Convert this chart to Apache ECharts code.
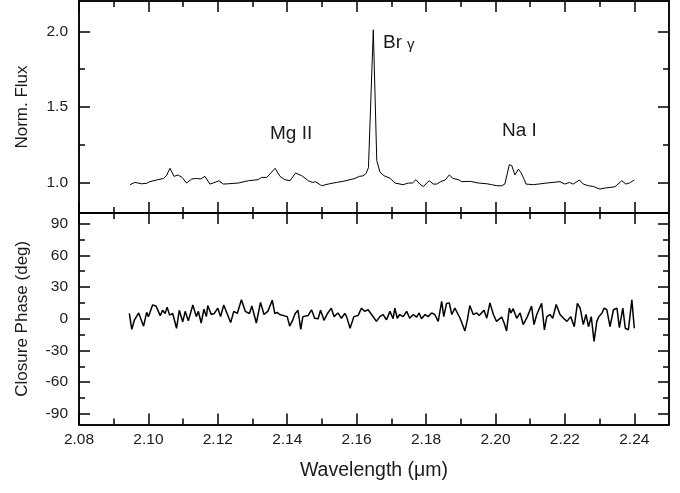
<!DOCTYPE html>
<html><head><meta charset="utf-8">
<script src="https://cdn.jsdelivr.net/npm/echarts@6/dist/echarts.min.js"></script>
<style>html,body{margin:0;padding:0;background:#fff}#c{width:680px;height:493px}</style>
</head><body><div id="c"></div>
<script>
// ---- Data ----
const fluxWavelength = [
  2.0947, 2.0961, 2.0980, 2.0995, 2.1004, 2.1024, 2.1043, 2.1052, 2.1062, 2.1074,
  2.1086, 2.1097, 2.1110, 2.1125, 2.1139, 2.1151, 2.1163, 2.1177, 2.1187, 2.1203,
  2.1216, 2.1230, 2.1259, 2.1288, 2.1316, 2.1326, 2.1341, 2.1365, 2.1379, 2.1393,
  2.1408, 2.1424, 2.1442, 2.1461, 2.1472, 2.1482, 2.1499, 2.1518, 2.1542, 2.1561,
  2.1581, 2.1595, 2.1608, 2.1618, 2.1627, 2.1634, 2.1648, 2.1658, 2.1667, 2.1679,
  2.1696, 2.1710, 2.1734, 2.1749, 2.1761, 2.1771, 2.1782, 2.1792, 2.1809, 2.1821,
  2.1831, 2.1842, 2.1855, 2.1867, 2.1878, 2.1893, 2.1903, 2.1927, 2.1951, 2.1975,
  2.1989, 2.2004, 2.2018, 2.2027, 2.2040, 2.2047, 2.2056, 2.2066, 2.2074, 2.2083,
  2.2088, 2.2109, 2.2148, 2.2186, 2.2200, 2.2213, 2.2224, 2.2242, 2.2253, 2.2268,
  2.2282, 2.2301, 2.2316, 2.2330, 2.2344, 2.2364, 2.2376, 2.2386, 2.2400
];
const fluxValues = [
  0.987, 1.002, 0.993, 0.996, 1.007, 1.018, 1.028, 1.046, 1.095, 1.042,
  1.051, 1.035, 0.998, 1.025, 1.028, 1.025, 1.042, 0.991, 0.998, 1.013,
  0.991, 0.993, 0.998, 1.013, 1.020, 1.035, 1.035, 1.095, 1.042, 1.020,
  1.013, 1.064, 1.046, 1.013, 1.002, 1.006, 0.980, 0.991, 1.002, 1.009,
  1.020, 1.028, 1.042, 1.045, 1.060, 1.100, 2.010, 1.146, 1.070, 1.046,
  1.030, 0.998, 0.987, 0.998, 0.998, 1.020, 0.991, 0.975, 1.013, 0.991,
  0.991, 1.007, 1.018, 1.051, 1.028, 1.020, 1.007, 1.009, 0.998, 0.993,
  0.987, 0.980, 0.980, 0.991, 1.119, 1.113, 1.051, 1.090, 1.065, 1.020,
  0.991, 0.987, 0.998, 1.007, 0.991, 1.002, 0.991, 1.018, 0.991, 0.980,
  0.975, 0.958, 0.965, 0.969, 0.973, 1.013, 0.991, 0.998, 1.018
];
const phaseWavelength = [
  2.0945, 2.0952, 2.0960, 2.0972, 2.0986, 2.0995, 2.1000, 2.1012, 2.1022, 2.1034,
  2.1041, 2.1048, 2.1054, 2.1061, 2.1070, 2.1081, 2.1089, 2.1099, 2.1106, 2.1115,
  2.1128, 2.1138, 2.1144, 2.1152, 2.1160, 2.1167, 2.1171, 2.1181, 2.1190, 2.1200,
  2.1208, 2.1217, 2.1226, 2.1237, 2.1246, 2.1256, 2.1268, 2.1279, 2.1291, 2.1298,
  2.1311, 2.1323, 2.1333, 2.1344, 2.1357, 2.1364, 2.1371, 2.1378, 2.1400, 2.1407,
  2.1416, 2.1423, 2.1431, 2.1439, 2.1445, 2.1460, 2.1470, 2.1479, 2.1489, 2.1496,
  2.1506, 2.1516, 2.1527, 2.1535, 2.1546, 2.1556, 2.1566, 2.1571, 2.1581, 2.1592,
  2.1604, 2.1614, 2.1623, 2.1633, 2.1643, 2.1657, 2.1667, 2.1676, 2.1686, 2.1696,
  2.1705, 2.1710, 2.1717, 2.1724, 2.1734, 2.1744, 2.1753, 2.1763, 2.1773, 2.1780,
  2.1787, 2.1797, 2.1806, 2.1816, 2.1825, 2.1835, 2.1845, 2.1851, 2.1859, 2.1867,
  2.1874, 2.1883, 2.1898, 2.1912, 2.1919, 2.1926, 2.1936, 2.1946, 2.1953, 2.1967,
  2.1975, 2.1984, 2.1994, 2.2003, 2.2018, 2.2025, 2.2032, 2.2040, 2.2045, 2.2051,
  2.2061, 2.2071, 2.2080, 2.2092, 2.2104, 2.2111, 2.2119, 2.2133, 2.2141, 2.2148,
  2.2157, 2.2165, 2.2175, 2.2186, 2.2196, 2.2206, 2.2217, 2.2227, 2.2236, 2.2244,
  2.2253, 2.2261, 2.2268, 2.2276, 2.2284, 2.2292, 2.2298, 2.2307, 2.2313, 2.2321,
  2.2330, 2.2340, 2.2350, 2.2357, 2.2367, 2.2374, 2.2383, 2.2393, 2.2400
];
const phaseValues = [
  5, -10, -1, 5.5, -7, 6, 2, 13, 12, 3,
  8, 5, 11, 3.5, 5, -9, 8, -3, 7, -2,
  13, 2, 7, -4, 9, 2, 12.5, 4, 5, 10,
  2, 13, 5.5, -3.5, 7, 5, 18, 7, 5, 12,
  -4, 15.5, 4, 7, 17.5, 5, 6, 4, 2, -7,
  -1, 5, 8, -10, 2, 3, 8.5, 0.5, 0, 8,
  -1.5, 5, 10, 2, 5.5, 0.5, 5, 2, -9, 2,
  3, 10, 7, 8.5, 4, -2.5, 2, 4, -1, 7,
  0, 10, 0.5, 4, 2, 7, 0.5, 4, 1.5, 5.5,
  0, 4, 2, 5.5, 4, -2.5, 16.5, 2, 14.5, 15,
  4, 10, 0.5, -11.5, -1, 12.5, 4, 5.5, 3, 8,
  0.5, 15, 4, -2.5, 1.5, -4, -11.5, 10, 5.5, 9.5,
  0.5, 5.5, -5.5, 2, 12, -5.5, 4, 14.5, -10.5, 2,
  4, 0.5, 13.5, 4, 0.5, -2.5, 2, -7.5, 14.5, 10,
  -5.5, 4, -7.5, 2, -21.5, -2.5, 2, 5.5, 10, 8.5,
  -7.5, 8.5, 10, -8.5, 10, -9, -10.5, 18, -9
];
const xMajorTicks = [2.08, 2.10, 2.12, 2.14, 2.16, 2.18, 2.20, 2.22, 2.24];
const xMinorTicks = [2.09, 2.11, 2.13, 2.15, 2.17, 2.19, 2.21, 2.23];
const fluxMajorTicks = [1.0, 1.5, 2.0];
const fluxMinorTicks = [1.25, 1.75];
const phaseMajorTicks = [-90, -60, -30, 0, 30, 60, 90];
const phaseMinorTicks = [-75, -45, -15, 15, 45, 75];

// ---- Styling / layout ----
const FONT = "'Liberation Sans', Arial, Helvetica, sans-serif";
const TXT = '#1a1a1a';
const LINE = '#000';
const X_MIN = 2.08, X_MAX = 2.25;
const F_MIN = 0.8, F_MAX = 2.2;
const P_MIN = -100, P_MAX = 100;
const MAJ = 11, MIN_LEN = 6;

function tickAxis(grid, position, ticks, len, min, max, extra) {
  const a = {
    type: 'value', gridIndex: grid, position: position, min: min, max: max,
    axisLine: { show: true, onZero: false, lineStyle: { color: LINE, width: 1.5 } },
    axisTick: { show: true, inside: true, length: len, customValues: ticks,
                lineStyle: { color: LINE, width: 1.5 } },
    axisLabel: { show: false },
    splitLine: { show: false },
    minorTick: { show: false },
    minorSplitLine: { show: false }
  };
  return Object.assign(a, extra || {});
}

const xAxes = [];
const yAxes = [];
for (let g = 0; g < 2; g++) {
  const isBottomGrid = g === 1;
  xAxes.push(tickAxis(g, 'bottom', xMajorTicks, MAJ, X_MIN, X_MAX, isBottomGrid ? {
    axisLabel: { show: true, customValues: xMajorTicks, margin: 7,
      formatter: v => v.toFixed(2), color: TXT, fontSize: 15.5, fontFamily: FONT },
    name: 'Wavelength (\u03bcm)', nameLocation: 'middle', nameGap: 36,
    nameTextStyle: { color: TXT, fontSize: 19.5, fontFamily: FONT }
  } : {}));
  xAxes.push(tickAxis(g, 'bottom', xMinorTicks, MIN_LEN, X_MIN, X_MAX));
  xAxes.push(tickAxis(g, 'top', xMajorTicks, MAJ, X_MIN, X_MAX));
  xAxes.push(tickAxis(g, 'top', xMinorTicks, MIN_LEN, X_MIN, X_MAX));

  const maj = g === 0 ? fluxMajorTicks : phaseMajorTicks;
  const mnr = g === 0 ? fluxMinorTicks : phaseMinorTicks;
  const lo = g === 0 ? F_MIN : P_MIN;
  const hi = g === 0 ? F_MAX : P_MAX;
  yAxes.push(tickAxis(g, 'left', maj, MAJ, lo, hi, {
    axisLabel: { show: true, customValues: maj, margin: 11,
      formatter: v => g === 0 ? v.toFixed(1) : String(Math.round(v)),
      color: TXT, fontSize: 15.5, fontFamily: FONT },
    name: g === 0 ? 'Norm. Flux' : 'Closure Phase (deg)',
    nameLocation: 'middle', nameGap: 48, nameRotate: 90,
    nameTextStyle: { color: TXT, fontSize: 17, fontFamily: FONT }
  }));
  yAxes.push(tickAxis(g, 'left', mnr, MIN_LEN, lo, hi));
  yAxes.push(tickAxis(g, 'right', maj, MAJ, lo, hi));
  yAxes.push(tickAxis(g, 'right', mnr, MIN_LEN, lo, hi));
}

const option = {
  backgroundColor: '#fff',
  animation: false,
  grid: [
    { left: 79, right: 11, top: 1, height: 212 },
    { left: 79, right: 11, top: 213, height: 211.5 }
  ],
  xAxis: xAxes,
  yAxis: yAxes,
  series: [
    { type: 'line', xAxisIndex: 0, yAxisIndex: 0, showSymbol: false, symbol: 'none',
      data: fluxWavelength.map((w, i) => [w, fluxValues[i]]),
      lineStyle: { color: LINE, width: 1 } },
    { type: 'line', xAxisIndex: 4, yAxisIndex: 4, showSymbol: false, symbol: 'none',
      data: phaseWavelength.map((w, i) => [w, phaseValues[i]]),
      lineStyle: { color: LINE, width: 1.5 } }
  ],
  graphic: [
    { type: 'text', left: 270, top: 124, style: { text: 'Mg II', fill: TXT, fontSize: 19, fontFamily: FONT } },
    { type: 'text', left: 383, top: 33, style: { text: 'Br', fill: TXT, fontSize: 19, fontFamily: FONT } },
    { type: 'text', left: 407, top: 37, style: { text: '\u03b3', fill: TXT, fontSize: 15, fontFamily: FONT } },
    { type: 'text', left: 502, top: 121, style: { text: 'Na I', fill: TXT, fontSize: 19, fontFamily: FONT } }
  ]
};
const chart = echarts.init(document.getElementById('c'), null, { renderer: 'canvas' });
chart.setOption(option);
</script>
</body></html>
